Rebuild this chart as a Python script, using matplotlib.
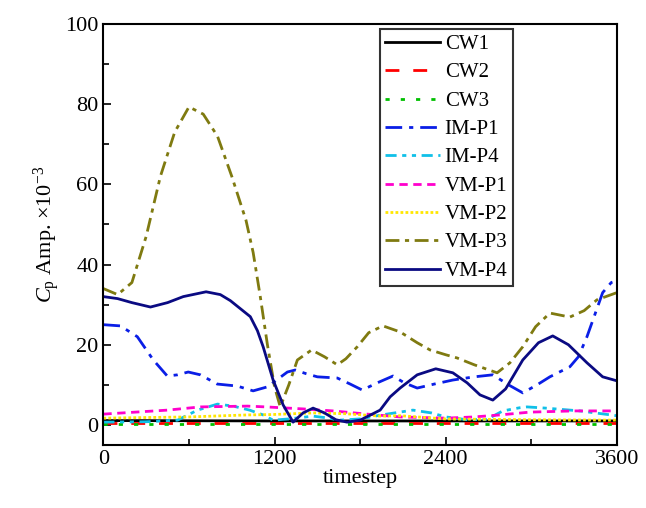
import matplotlib
matplotlib.use("Agg")
import matplotlib.pyplot as plt

plt.rcParams['font.family'] = ['Liberation Serif', 'DejaVu Serif']
plt.rcParams['mathtext.fontset'] = 'custom'
plt.rcParams['mathtext.rm'] = 'Liberation Serif'
plt.rcParams['mathtext.it'] = 'Liberation Serif:italic'

# amplitude of Cp (x1e-3) against timestep
cw1_x = [0, 1200, 2400, 3600]
cw1_y = [1.1, 1.0, 1.0, 1.0]
cw2_x = [0, 1200, 2400, 3600]
cw2_y = [0.5, 0.5, 0.5, 0.5]
cw3_x = [0, 1200, 2400, 3600]
cw3_y = [0.2, 0.2, 0.2, 0.2]

imp1_x = [0, 120, 238, 350, 448, 520, 595, 680, 798, 938, 1050, 1150, 1290, 1345,
          1420, 1500, 1640, 1730, 1815, 1920, 2030, 2110, 2200, 2320, 2450, 2600,
          2730, 2840, 2940, 3040, 3130, 3270, 3330, 3390, 3450, 3500, 3560, 3600]
imp1_y = [25, 24.7, 22, 16.2, 12.2, 12.5, 13.2, 12.5, 10.2, 9.7, 8.5, 9.5, 13.2, 13.7,
          12.8, 12, 11.7, 10.2, 8.7, 10.5, 12.2, 10.5, 9.2, 10.2, 11.2, 12,
          12.5, 10, 8, 10, 12, 14.5, 17, 22, 28, 33, 35.5, 36]

imp4_x = [0, 300, 520, 660, 800, 910, 1025, 1120, 1190, 1300, 1470, 1560, 1655, 1800,
          1950, 2170, 2300, 2400, 2550, 2690, 2800, 2920, 2970, 3100, 3340, 3600]
imp4_y = [0.7, 0.8, 1.2, 3.7, 5.2, 4.7, 3.7, 2.5, 1.2, 1.5, 2.2, 1.8, 1.2, 1.5,
          2.5, 3.7, 3, 2, 1.3, 1.4, 3.5, 4.3, 4.5, 4.2, 3.5, 2.3]

vmp1_x = [0, 450, 680, 1010, 1140, 1400, 1610, 1850, 2080, 2400, 2600, 2780, 2990, 3300, 3600]
vmp1_y = [2.7, 3.7, 4.5, 4.7, 4.5, 4, 3.5, 2.7, 2, 1.7, 2, 2.5, 3.2, 3.5, 3.5]

vmp2_x = [0, 600, 1010, 1190, 1470, 1700, 1940, 2080, 2400, 3000, 3600]
vmp2_y = [1.7, 2, 2.5, 2.6, 3.0, 2.8, 2.2, 2.3, 1.5, 1.3, 1.2]

vmp3_x = [0, 100, 200, 300, 400, 500, 600, 700, 800, 900, 1000, 1050, 1100, 1150, 1200,
          1240, 1300, 1360, 1460, 1550, 1640, 1700, 1780, 1860, 1960, 2080, 2200, 2290,
          2400, 2480, 2600, 2760, 2850, 2940, 3030, 3130, 3270, 3370, 3460, 3600]
vmp3_y = [34, 32.5, 35.5, 47, 62, 73, 79.3, 77.5, 72, 62, 51, 43, 32, 20, 9.5,
          4.5, 10, 16.2, 18.7, 17, 15, 16.5, 19.5, 23, 24.7, 23.2, 20.5, 18.7,
          17.5, 16.7, 15, 13, 15.5, 19.5, 24.5, 27.9, 26.9, 28.5, 31.2, 33]

vmp4_x = [0, 100, 200, 330, 450, 560, 720, 820, 890, 960, 1030, 1080, 1120, 1190, 1260,
          1330, 1400, 1470, 1550, 1630, 1708, 1800, 1940, 2010, 2080, 2200, 2330, 2450,
          2550, 2640, 2730, 2820, 2940, 3050, 3150, 3260, 3390, 3500, 3600]
vmp4_y = [32, 31.5, 30.5, 29.4, 30.5, 32, 33.2, 32.5, 31, 29, 27, 23.5, 19.5, 11.2, 5,
          0.7, 3, 4.2, 3, 1.3, 0.7, 1.2, 3.7, 7, 9.2, 12.5, 14, 13,
          10.5, 7.5, 6.2, 9, 16.2, 20.5, 22.2, 20, 15.5, 12, 11]

fig = plt.figure(figsize=(6.46, 5.08), dpi=100)
ax = fig.add_axes([0.160, 0.124, 0.795, 0.829])

lw = 2.0
ax.plot(cw1_x, cw1_y, color='black', lw=lw, ls='-', label='CW1')
ax.plot(cw2_x, cw2_y, color='#ff0000', lw=lw, ls=(0, (5, 5)), label='CW2')
ax.plot(cw3_x, cw3_y, color='#00c000', lw=lw, ls=(0, (1.5, 4)), label='CW3')
ax.plot(imp1_x, imp1_y, color='#0a1ee6', lw=lw, ls=(0, (6, 2.5, 1.5, 2.5)), label='IM-P1')
ax.plot(imp4_x, imp4_y, color='#10c0e8', lw=lw, ls=(0, (4, 2, 1.5, 2, 1.5, 2)), label='IM-P4')
ax.plot(vmp1_x, vmp1_y, color='#ff00cc', lw=lw, ls=(0, (3, 2)), label='VM-P1')
ax.plot(vmp2_x, vmp2_y, color='#ffe600', lw=lw, ls=(0, (1, 0.8)), label='VM-P2')
ax.plot(vmp3_x, vmp3_y, color='#7f7a10', lw=lw, ls=(0, (5, 2, 1.5, 2)), label='VM-P3')
ax.plot(vmp4_x, vmp4_y, color='#0a0a82', lw=lw, ls='-', label='VM-P4')

ax.set_xlim(0, 3600)
ax.set_ylim(-5, 100)
ax.set_xticks([0, 1200, 2400, 3600])
ax.set_xticks([600, 1800, 3000], minor=True)
ax.set_yticks([0, 20, 40, 60, 80, 100])
ax.set_yticks([10, 30, 50, 70, 90], minor=True)
ax.tick_params(which='both', direction='in', labelsize=16, width=1.2)
ax.tick_params(which='major', length=6)
ax.tick_params(which='minor', length=4)
for s in ax.spines.values():
    s.set_linewidth(1.5)

ax.set_xlabel('timestep', fontsize=16, labelpad=0)
ax.set_ylabel(r'$C_\mathrm{p}$ Amp. ×10$^{-3}$', fontsize=16, labelpad=2)

leg = ax.legend(loc='upper right', bbox_to_anchor=(0.797, 0.987), fontsize=15,
                frameon=True, fancybox=False, edgecolor='black', handlelength=2.6,
                handletextpad=0.25, labelspacing=0.42, borderpad=0.25, borderaxespad=0)
leg.get_frame().set_linewidth(1.5)

fig.savefig('out.png', dpi=100)
